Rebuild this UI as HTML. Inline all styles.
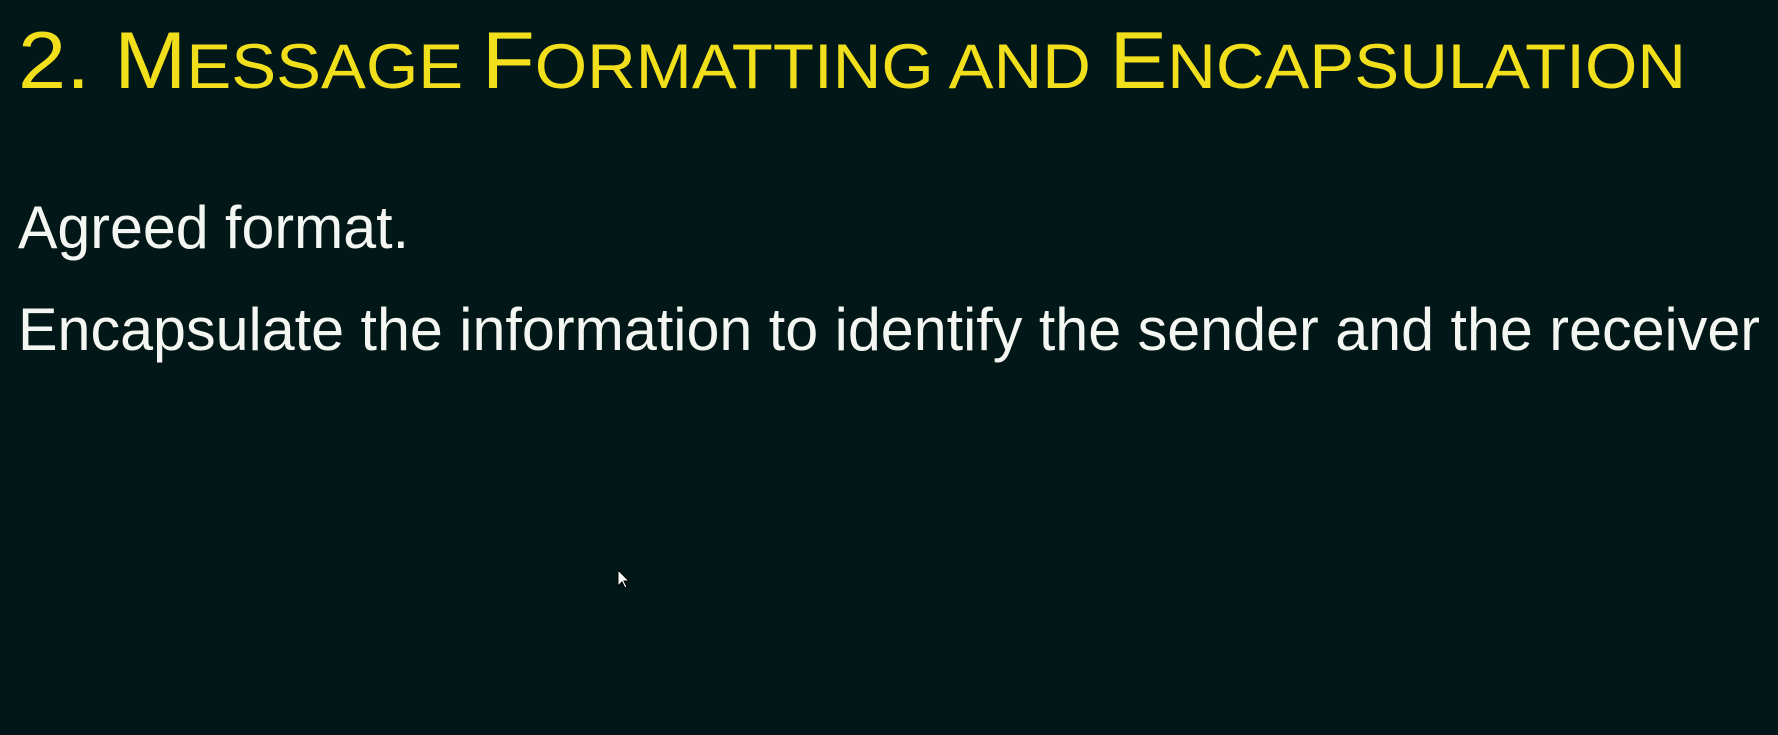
<!DOCTYPE html>
<html><head><meta charset="utf-8"><style>
html,body{margin:0;padding:0;background:#021717;}
svg{display:block}
</style></head><body>
<svg width="1778" height="735" viewBox="0 0 1778 735" xmlns="http://www.w3.org/2000/svg">
<rect width="1778" height="735" fill="#021717"/>
<text x="18" y="88" fill="#f2df1c" font-family="Liberation Sans, sans-serif" textLength="1668" lengthAdjust="spacingAndGlyphs"><tspan font-size="81">2. M</tspan><tspan font-size="63">ESSAGE </tspan><tspan font-size="81">F</tspan><tspan font-size="63">ORMATTING AND </tspan><tspan font-size="81">E</tspan><tspan font-size="63">NCAPSULATION</tspan></text>
<text x="18" y="248" fill="#f4f6f2" font-family="Liberation Sans, sans-serif" font-size="60" textLength="391" lengthAdjust="spacingAndGlyphs">Agreed format.</text>
<text x="18" y="350" fill="#f4f6f2" font-family="Liberation Sans, sans-serif" font-size="60" textLength="1742" lengthAdjust="spacingAndGlyphs">Encapsulate the information to identify the sender and the receiver</text>
<path d="M618 570 l0 16 l4 -4 l3 6 l2 -1 l-3 -6 l5 0 z" fill="#fff" stroke="#000" stroke-width="1"/>
</svg>
</body></html>
